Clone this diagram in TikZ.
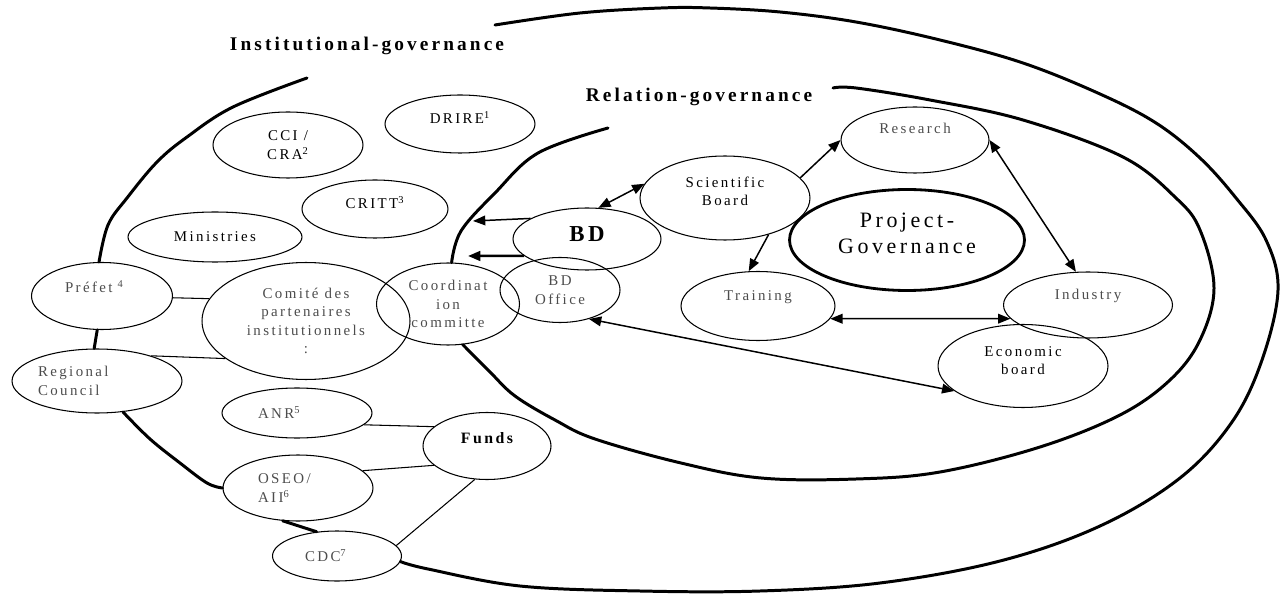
\documentclass[tikz,border=0pt]{standalone}
\usepackage{fontspec}
\setmainfont{Liberation Serif}[LetterSpace=16]
\usepackage{tikz}
\usetikzlibrary{arrows.meta, shapes}
\pgfdeclarelayer{background}
\pgfsetlayers{background,main}

\begin{document}
\begin{tikzpicture}[x = 0.02cm, y = -0.02cm]

    % Serif text, small
    \fontsize{8.5}{10.5}\selectfont

    % Ellipses
    \tikzset{nE/.style={draw, shape = ellipse, inner sep = 0pt, line width = 0.6pt, align = center}}
    \tikzset{gE/.style={nE, text = black!70}}
    \tikzset{pE/.style={nE, line width = 1.6pt, font = \fontsize{12.5}{15}\selectfont}}

    % Titles
    \tikzset{tT/.style={inner sep = 0pt, font = \fontsize{11}{13}\selectfont\bfseries}}

    % Boundaries, links and arrows
    \tikzset{Bo/.style={line width = 1.7pt, line cap = round}}
    \tikzset{Ln/.style={line width = 0.6pt}}
    \tikzset{Ar/.style={line width = 0.85pt, -{Triangle[length = 7pt, width = 5.5pt]}}}
    \tikzset{Ad/.style={line width = 0.85pt, {Triangle[length = 7pt, width = 5.5pt]}-{Triangle[length = 7pt, width = 5.5pt]}}}

    % Page
    \path[use as bounding box] (0,0) rectangle (1284,594);

    % Titles
    \node (tI) [tT] at (367,46) {Institutional-governance};
    \node (tR) [tT] at (699,97) {Relation-governance};

    % Institutional nodes
    \node (cci) [nE, minimum width = 3cm, minimum height = 1.32cm] at (288,145) {CCI /\\CRA\textsuperscript{2}};
    \node (dri) [nE, minimum width = 3cm, minimum height = 1.16cm, text depth = 7pt] at (460,124) {DRIRE\textsuperscript{1}};
    \node (cri) [nE, minimum width = 2.92cm, minimum height = 1.16cm, text depth = 7pt] at (375,209) {CRITT\textsuperscript{3}};
    \node (min) [nE, minimum width = 3.48cm, minimum height = 1cm] at (215,237) {Ministries};
    \node (pre) [gE, minimum width = 2.82cm, minimum height = 1.34cm, text width = 1.48cm, align = left, text depth = 11pt] at (102,296) {Préfet \textsuperscript{4}};
    \node (com) [gE, minimum width = 4.16cm, minimum height = 2.34cm] at (306,321) {Comité des\\partenaires\\institutionnels\\:};
    \node (reg) [gE, minimum width = 3.4cm, minimum height = 1.28cm, text width = 2.36cm, align = left] at (97,381) {Regional\\Council};
    \node (coo) [gE, minimum width = 2.86cm, minimum height = 1.64cm] at (448,304) {Coordinat\\ion\\committe};
    \node (anr) [gE, minimum width = 3cm, minimum height = 1cm, text width = 1.56cm, align = left] at (297,413) {ANR\textsuperscript{5}};
    \node (fun) [nE, minimum width = 2.56cm, minimum height = 1.34cm, text depth = 9pt, font = \fontsize{9}{11}\selectfont\bfseries] at (487,446) {Funds};
    \node (ose) [gE, minimum width = 3cm, minimum height = 1.32cm, text width = 1.6cm, align = left] at (298,488) {OSEO/\\AII\textsuperscript{6}};
    \node (cdc) [gE, minimum width = 2.58cm, minimum height = 1cm, text width = 1.28cm, align = left] at (337,556) {CDC\textsuperscript{7}};

    % Relation nodes
    \node (bd) [nE, minimum width = 2.96cm, minimum height = 1.24cm, text depth = 6pt, font = \fontsize{13}{15}\selectfont\bfseries] at (587,239) {BD};
    \node (bdo) [gE, minimum width = 2.4cm, minimum height = 1.3cm] at (560,290) {BD\\Office};
    \node (sci) [nE, minimum width = 3.4cm, minimum height = 1.68cm, text depth = 7.5pt] at (725,198) {Scientific\\Board};
    \node (res) [gE, minimum width = 2.96cm, minimum height = 1.32cm, text depth = 13pt] at (915,140) {Research};
    \node (pro) [pE, minimum width = 4.7cm, minimum height = 2.02cm, text depth = 7.5pt] at (907,240) {Project-\\Governance};
    \node (tra) [gE, minimum width = 3.08cm, minimum height = 1.38cm, text depth = 12pt] at (758,306) {Training};
    \node (ind) [gE, minimum width = 3.38cm, minimum height = 1.32cm, text depth = 12pt] at (1088,305) {Industry};
    \node (eco) [nE, minimum width = 3.4cm, minimum height = 1.66cm, text depth = 6.5pt] at (1023,366) {Economic\\board};

    % Arrow ends on the relation boundary
    \coordinate (bA) at (473,221);
    \coordinate (bB) at (468,256);

    % Background image
    \begin{pgfonlayer}{background}

    	% Institutional-governance boundary
    	\draw[Bo] plot[smooth, tension = 0.6] coordinates {(307,78) (233,107) (187,137) (157,162) (127,198) (108,225) (pre.95)};
    	\draw[Bo] (pre.262) -- (reg.95);
    	\draw[Bo] plot[smooth, tension = 0.6] coordinates {(reg.-50) (150,439) (180,463) (207,483) (ose.west)};
    	\draw[Bo] (ose.-115) -- (cdc.130);
    	\draw[Bo] plot[smooth, tension = 0.6] coordinates {(cdc.-5) (428,569) (520,586) (640,591) (760,591) (880,583) (1000,561) (1100,526) (1180,478) (1232,422) (1262,360) (1278,290) (1266,240) (1236,198) (1200,158) (1156,123) (1100,94) (1023,63) (940,40) (856,22) (780,12) (710,8) (661,8) (580,13) (495,25)};

    	% Relation-governance boundary
    	\draw[Bo] plot[smooth, tension = 0.6] coordinates {(608,128) (538,153) (495,193) (461,231) (coo.85)};
    	\draw[Bo] plot[smooth, tension = 0.6] coordinates {(coo.-70) (490,372) (515,396) (555,420) (595,439) (681,463) (761,478) (856,479) (940,472) (1040,447) (1120,415) (1170,380) (1200,340) (1214,288) (1200,230) (1176,198) (1123,157) (1023,120) (930,100) (856,88) (833,88)};

    	% Institutional links
    	\draw[Ln] (pre) -- (com.167);
    	\draw[Ln] (reg.25) -- (com.205);
    	\draw[Ln] (anr.-10) -- (fun.160);
    	\draw[Ln] (ose.15) -- (fun.200);
    	\draw[Ln] (cdc.10) -- (fun.250);

    	% Relation arrows
    	\draw[Ar] (bd.160) -- (bA);
    	\draw[Ar, line width = 1.4pt] (bd.195) -- (bB);
    	\draw[Ad] (bd.70) -- (sci.170);
    	\draw[Ar] (sci.15) -- (res.west);
    	\draw[Ad] (res.east) -- (ind.110);
    	\draw[Ar] (sci.-40) -- (tra.105);
    	\draw[Ad] (tra.-10) -- (ind.190);
    	\draw[Ad] (bdo.-45) -- (eco.200);

    \end{pgfonlayer}

\end{tikzpicture}
\end{document}
